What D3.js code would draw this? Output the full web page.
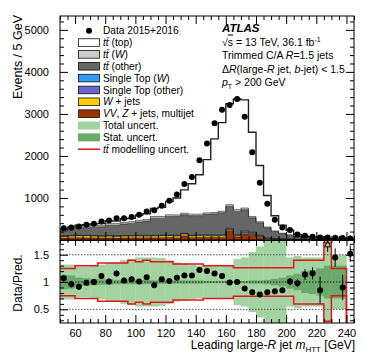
<!DOCTYPE html>
<html>
<head>
<meta charset="utf-8">
<script src="https://cdn.jsdelivr.net/npm/d3@7"></script>
<style>
body{margin:0;background:#fff}
svg text{font-family:"Liberation Sans",Arial,Helvetica,sans-serif;fill:#000}
</style>
</head>
<body>
<div id="chart"></div>
<script>
// bin edges (GeV), 5 GeV bins
const binEdges=[50,55,60,65,70,75,80,85,90,95,100,105,110,115,120,125,130,135,140,145,150,155,160,165,170,175,180,185,190,195,200,205,210,215,220,225,230,235,240,245]

// events per bin
const dataCounts=[280,295,320,360,385,440,463,520,520,545,600,680,705,815,935,1080,1335,1500,1895,2295,2780,3100,3210,3355,2935,2090,1365,863,480,300,235,130,100,80,62,58,55,45,38]
const dataErr=[17,17,18,19,20,21,22,23,23,23,24,26,27,29,31,33,37,39,44,48,53,56,57,58,54,46,37,29,22,17,15,11,10,9,8,8,7,7,6]

// stacked predictions, bottom to top
const vvzJets=[45,50,55,50,50,50,50,45,50,55,50,55,50,55,60,50,100,55,60,60,65,60,220,70,140,130,60,20,15,10,8,6,5,4,3,3,2,2,2]
const wJets=[40,45,45,50,45,40,45,45,45,40,45,40,45,45,40,45,40,40,40,40,35,40,25,30,25,20,25,15,10,8,6,5,4,3,3,2,2,2,2]
const stOther=[8,8,8,8,8,8,8,8,8,8,10,10,10,10,10,12,12,12,15,15,15,15,20,15,30,25,15,10,8,6,5,4,3,3,2,2,2,2,1]
const stW=[5,5,5,5,5,5,5,5,5,6,6,6,6,6,6,8,8,8,10,10,10,10,15,10,25,20,10,8,6,5,4,3,2,2,2,1,1,1,1]
const ttOther=[117,137,162,177,197,212,242,247,272,286,319,339,409,404,444,445,440,465,455,485,495,525,520,555,500,335,300,237,161,121,87,62,46,38,35,17,18,21,10]
const ttW=[15,20,25,30,35,40,40,40,40,40,40,40,40,40,40,35,35,35,35,35,35,35,40,40,40,30,25,20,15,12,10,8,6,5,5,3,3,3,2]
const ttTop=[32,42,50,44,45,41,68,60,85,84,124,134,190,216,317,405,557,724,938,1267,1752,2108,2402,2635,2575,2004,1338,749,363,191,113,45,22,14,23,3,10,19,7]

// ratio panel
const ratioErr=[0.06,0.06,0.06,0.05,0.05,0.05,0.05,0.05,0.05,0.05,0.04,0.04,0.04,0.04,0.04,0.03,0.03,0.03,0.03,0.02,0.02,0.02,0.02,0.02,0.02,0.02,0.02,0.03,0.04,0.05,0.065,0.07,0.1,0.11,0.25,0.2,0.17,0.23,0.15]
const statErr=[0.13,0.12,0.08,0.07,0.06,0.05,0.05,0.04,0.04,0.04,0.04,0.04,0.03,0.03,0.03,0.03,0.03,0.03,0.03,0.02,0.02,0.02,0.02,0.02,0.02,0.03,0.03,0.04,0.06,0.08,0.12,0.15,0.2,0.22,0.25,0.3,0.3,0.3,0]
const totErr=[0.32,0.32,0.28,0.28,0.3,0.32,0.36,0.36,0.4,0.42,0.45,0.45,0.45,0.44,0.4,0.36,0.34,0.32,0.3,0.3,0.29,0.29,0.3,0.42,0.45,0.55,0.65,0.85,0.9,0.8,0.45,0.48,0.45,0.45,0.45,0.75,0.5,0.5,0]
const modErr=[0.25,0.25,0.3,0.3,0.3,0.35,0.35,0.35,0.35,0.4,0.37,0.4,0.37,0.37,0.37,0.33,0.33,0.33,0.33,0.3,0.3,0.3,0.3,0.26,0.26,0.26,0.26,0.26,0.26,0.26,0.26,0.4,0.4,0.4,0.4,0.72,0.25,0.25,null]

const yTicks=[1000,2000,3000,4000,5000]
const xTicks=[60,80,100,120,140,160,180,200,220,240]
const rTicks=[0.5,1,1.5]

const width=374,height=359
const L=60,R=354,T=16,B=240,RT=240,RB=323

const svg=d3.select("#chart").append("svg").attr("width",width).attr("height",height)

const x=d3.scaleLinear().domain([50,245]).range([L,R])
const y=d3.scaleLinear().domain([0,5330]).range([B,T])
const yr=d3.scaleLinear().domain([0.25,1.77]).range([RB,RT])

const defs=svg.append("defs")
defs.append("clipPath").attr("id","clipTop").append("rect").attr("x",L).attr("y",T).attr("width",R-L).attr("height",B-T)
defs.append("clipPath").attr("id","clipRat").append("rect").attr("x",L).attr("y",RT).attr("width",R-L).attr("height",RB-RT)

// ---- upper panel stack
const keys=["vvz","wj","sto","stw","tto","ttw","ttt"]
const fills={vvz:"#993300",wj:"#ffcc00",sto:"#6666cc",stw:"#3399ff",tto:"#666666",ttw:"#cccccc",ttt:"#ffffff"}
const rows=dataCounts.map((d,i)=>({vvz:vvzJets[i],wj:wJets[i],sto:stOther[i],stw:stW[i],tto:ttOther[i],ttw:ttW[i],ttt:ttTop[i]}))
const series=d3.stack().keys(keys)(rows)
const pred=series[series.length-1].map(d=>d[1])

function stepPts(s){
const pts=s.map((d,i)=>({e:binEdges[i],y0:d[0],y1:d[1]}))
const last=s[s.length-1]
pts.push({e:binEdges[binEdges.length-1],y0:last[0],y1:last[1]})
return pts
}

const topG=svg.append("g").attr("clip-path","url(#clipTop)")
const area=d3.area().x(p=>x(p.e)).y0(p=>y(p.y0)).y1(p=>y(p.y1)).curve(d3.curveStepAfter)
const edgeLine=d3.line().x(p=>x(p.e)).y(p=>y(p.y1)).curve(d3.curveStepAfter)

series.forEach(s=>{
const pts=stepPts(s)
topG.append("path").attr("d",area(pts)).attr("fill",fills[s.key])
})
series.forEach(s=>{
const pts=stepPts(s)
topG.append("path").attr("d",edgeLine(pts)).attr("fill","none")
.attr("stroke",s.key==="ttt"?"#222":"#1a1a1a")
.attr("stroke-width",s.key==="ttt"?1.4:0.6)
})

// data
topG.selectAll(".derr").data(dataCounts).enter().append("line")
.attr("x1",(d,i)=>x(binEdges[i]+2.5)).attr("x2",(d,i)=>x(binEdges[i]+2.5))
.attr("y1",(d,i)=>y(d-dataErr[i])).attr("y2",(d,i)=>y(d+dataErr[i]))
.attr("stroke","#000").attr("stroke-width",1)
topG.selectAll(".dpt").data(dataCounts).enter().append("circle")
.attr("cx",(d,i)=>x(binEdges[i]+2.5)).attr("cy",d=>y(d)).attr("r",3).attr("fill","#000")

// ---- ratio panel
const rat=svg.append("g").attr("clip-path","url(#clipRat)")
const bw=x(55)-x(50)

rat.selectAll(".tot").data(totErr).enter().append("rect")
.attr("x",(d,i)=>x(binEdges[i])).attr("width",bw+0.3)
.attr("y",d=>yr(1+d)).attr("height",d=>yr(1-d)-yr(1+d))
.attr("fill","#a3d3a1")
rat.selectAll(".stat").data(statErr).enter().append("rect")
.attr("x",(d,i)=>x(binEdges[i])).attr("width",bw+0.3)
.attr("y",d=>yr(1+d)).attr("height",d=>yr(1-d)-yr(1+d))
.attr("fill","#6aa96a")

rTicks.forEach(t=>{
rat.append("line").attr("x1",L).attr("x2",R).attr("y1",yr(t)).attr("y2",yr(t))
.attr("stroke",t===1?"#222":"#555").attr("stroke-width",1).attr("stroke-dasharray","1.5,1.5")
})

function modPts(sign){
const pts=modErr.map((d,i)=>({e:binEdges[i],v:d===null?0:1+sign*d}))
pts.push({e:binEdges[binEdges.length-1],v:pts[pts.length-1].v})
return pts
}
const modLine=d3.line().x(p=>x(p.e)).y(p=>yr(p.v)).curve(d3.curveStepAfter)
rat.append("path").attr("d",modLine(modPts(1))).attr("fill","none").attr("stroke","#e8141c").attr("stroke-width",1.5)
rat.append("path").attr("d",modLine(modPts(-1))).attr("fill","none").attr("stroke","#e8141c").attr("stroke-width",1.5)

const ratio=dataCounts.map((d,i)=>d/pred[i])
const rMax=1.72
ratio.forEach((r,i)=>{
const cx=x(binEdges[i]+2.5)
if(r>rMax){
const ty=yr(1.7)
rat.append("line").attr("x1",cx).attr("x2",cx).attr("y1",ty+3).attr("y2",ty+8).attr("stroke","#000")
rat.append("path").attr("d",`M${cx-3},${ty+3}L${cx+3},${ty+3}L${cx},${ty-3}Z`).attr("fill","none").attr("stroke","#000").attr("stroke-width",1)
return
}
rat.append("line").attr("x1",cx).attr("x2",cx).attr("y1",yr(r-ratioErr[i])).attr("y2",yr(r+ratioErr[i])).attr("stroke","#000").attr("stroke-width",1)
rat.append("circle").attr("cx",cx).attr("cy",yr(r)).attr("r",3).attr("fill","#000")
})

// ---- frames and axes
function ticksX(g,yy,dir,maj,mi){
const minor=d3.range(50,246,5).filter(v=>!xTicks.includes(v))
g.append("g").attr("transform",`translate(0,${yy})`)
.call((dir>0?d3.axisTop(x):d3.axisBottom(x)).tickValues(xTicks).tickSize(maj).tickFormat(""))
g.append("g").attr("transform",`translate(0,${yy})`)
.call((dir>0?d3.axisTop(x):d3.axisBottom(x)).tickValues(minor).tickSize(mi).tickFormat(""))
}
const ax=svg.append("g")
// upper panel
ax.append("g").attr("transform",`translate(${L},0)`).call(d3.axisLeft(y).tickValues(yTicks).tickSize(-8).tickPadding(11).tickFormat(d3.format("d")))
ax.append("g").attr("transform",`translate(${L},0)`).call(d3.axisLeft(y).tickValues(d3.range(200,5330,200).filter(v=>v%1000)).tickSize(-4).tickFormat(""))
ax.append("g").attr("transform",`translate(${R},0)`).call(d3.axisRight(y).tickValues(yTicks).tickSize(-8).tickFormat(""))
ax.append("g").attr("transform",`translate(${R},0)`).call(d3.axisRight(y).tickValues(d3.range(200,5330,200).filter(v=>v%1000)).tickSize(-4).tickFormat(""))
ticksX(ax,T,-1,8,4)
ticksX(ax,B,1,8,4)
// ratio panel
const rMinor=[0.3,0.4,0.6,0.7,0.8,0.9,1.1,1.2,1.3,1.4,1.6,1.7]
ax.append("g").attr("transform",`translate(${L},0)`).call(d3.axisLeft(yr).tickValues(rTicks).tickSize(-8).tickPadding(11).tickFormat(d=>d===1?"1":d3.format(".1f")(d)))
ax.append("g").attr("transform",`translate(${L},0)`).call(d3.axisLeft(yr).tickValues(rMinor).tickSize(-4).tickFormat(""))
ax.append("g").attr("transform",`translate(${R},0)`).call(d3.axisRight(yr).tickValues(rTicks).tickSize(-8).tickFormat(""))
ax.append("g").attr("transform",`translate(${R},0)`).call(d3.axisRight(yr).tickValues(rMinor).tickSize(-4).tickFormat(""))
ticksX(ax,RT,-1,6,3)
ax.append("g").attr("transform",`translate(0,${RB})`).call(d3.axisTop(x).tickValues(xTicks).tickSize(8).tickPadding(-22).tickFormat(d3.format("d")))
ax.append("g").attr("transform",`translate(0,${RB})`).call(d3.axisTop(x).tickValues(d3.range(50,246,5).filter(v=>!xTicks.includes(v))).tickSize(4).tickFormat(""))

ax.selectAll(".domain").remove()
ax.selectAll(".tick line").attr("stroke","#000")
ax.selectAll(".tick text").attr("font-size",11).attr("font-family",null)

svg.append("rect").attr("x",L).attr("y",T).attr("width",R-L).attr("height",B-T).attr("fill","none").attr("stroke","#000").attr("stroke-width",1)
svg.append("rect").attr("x",L).attr("y",RT+0.5).attr("width",R-L).attr("height",RB-RT-0.5).attr("fill","none").attr("stroke","#000").attr("stroke-width",1)

// axis titles
svg.append("text").attr("transform","translate(22,15) rotate(-90)").attr("text-anchor","end").attr("font-size",12.5).text("Events / 5 GeV")
svg.append("text").attr("transform","translate(22,283) rotate(-90)").attr("text-anchor","middle").attr("font-size",12).text("Data/Pred.")
const xt=svg.append("text").attr("x",355).attr("y",349).attr("text-anchor","end").attr("font-size",12)
xt.append("tspan").text("Leading large-")
xt.append("tspan").attr("font-style","italic").text("R")
xt.append("tspan").text(" jet ")
xt.append("tspan").attr("font-style","italic").text("m")
xt.append("tspan").attr("font-size",8).attr("dy",3).text("HTT")
xt.append("tspan").attr("dy",-3).text(" [GeV]")

// legend
const legend=[
{t:"data",label:[["Data 2015+2016"]]},
{t:"box",c:fills.ttt,label:[["tt\u0304","i"],[" (top)"]]},
{t:"box",c:fills.ttw,label:[["tt\u0304","i"],[" ("],["W","i"],[")"]]},
{t:"box",c:fills.tto,label:[["tt\u0304","i"],[" (other)"]]},
{t:"box",c:fills.stw,label:[["Single Top ("],["W","i"],[")"]]},
{t:"box",c:fills.sto,label:[["Single Top (other)"]]},
{t:"box",c:fills.wj,label:[["W","i"],[" + jets"]]},
{t:"box",c:fills.vvz,label:[["VV","i"],[", "],["Z","i"],[" + jets, multijet"]]},
{t:"fill",c:"#a3d3a1",label:[["Total uncert."]]},
{t:"fill",c:"#6aa96a",label:[["Stat. uncert."]]},
{t:"line",c:"#e8141c",label:[["tt\u0304","i"],[" modelling uncert."]]}
]
const lg=svg.append("g")
legend.forEach((e,k)=>{
const cy=30.7+11.85*k
if(e.t==="data") lg.append("circle").attr("cx",89).attr("cy",cy).attr("r",3).attr("fill","#000")
if(e.t==="box") lg.append("rect").attr("x",78.5).attr("y",cy-3.8).attr("width",21).attr("height",7.6).attr("fill",e.c).attr("stroke","#111").attr("stroke-width",0.8)
if(e.t==="fill") lg.append("rect").attr("x",78).attr("y",cy-4).attr("width",22).attr("height",8).attr("fill",e.c)
if(e.t==="line") lg.append("line").attr("x1",78).attr("x2",100).attr("y1",cy).attr("y2",cy).attr("stroke",e.c).attr("stroke-width",1.5)
const tx=lg.append("text").attr("x",103).attr("y",cy+3.6).attr("font-size",10.2)
e.label.forEach(p=>tx.append("tspan").attr("font-style",p[1]==="i"?"italic":null).text(p[0]))
})

// ATLAS label
const ix=222
svg.append("text").attr("x",ix).attr("y",32).attr("font-size",11.5).attr("font-weight","bold").attr("font-style","italic").text("ATLAS")
const l1=svg.append("text").attr("x",ix).attr("y",45.5).attr("font-size",10.5)
l1.append("tspan").text("\u221A")
l1.append("tspan").attr("style","text-decoration:overline").text("s")
l1.append("tspan").text(" = 13 TeV, 36.1 fb")
l1.append("tspan").attr("font-size",7).attr("dy",-4).text("-1")
const l2=svg.append("text").attr("x",ix).attr("y",59).attr("font-size",10.5)
l2.append("tspan").text("Trimmed C/A ")
l2.append("tspan").attr("font-style","italic").text("R")
l2.append("tspan").text("=1.5 jets")
const l3=svg.append("text").attr("x",ix).attr("y",72.5).attr("font-size",10.5)
l3.append("tspan").text("\u0394")
l3.append("tspan").attr("font-style","italic").text("R")
l3.append("tspan").text("(large-")
l3.append("tspan").attr("font-style","italic").text("R")
l3.append("tspan").text(" jet, ")
l3.append("tspan").attr("font-style","italic").text("b")
l3.append("tspan").text("-jet) < 1.5")
const l4=svg.append("text").attr("x",ix).attr("y",86).attr("font-size",10.5)
l4.append("tspan").attr("font-style","italic").text("p")
l4.append("tspan").attr("font-size",7).attr("dy",3).text("T")
l4.append("tspan").attr("dy",-3).text(" > 200 GeV")
</script>
</body>
</html>
